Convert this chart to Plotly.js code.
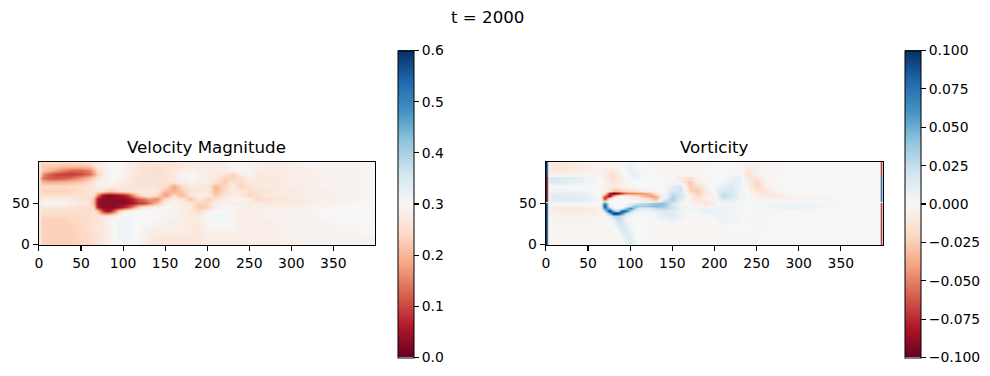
<!DOCTYPE html>
<html>
<head>
<meta charset="utf-8">
<script src="https://cdn.plot.ly/plotly-3.0.0.min.js"></script>
<style>html,body{margin:0;padding:0;background:#fff}#chart{width:990px;height:376px}</style>
</head>
<body>
<div id="chart"></div>
<script>
const suptitle = "t = 2000";
const speedTitle = "Velocity Magnitude";
const vortTitle = "Vorticity";

const speedX = [0,1,3,6,10,20,30,40,50,60, 65,70,75,80,85,90,95,100,105,110, 115,120,125,130,140,150,160,170,180,190, 200,210,220,230,240,250,260,270,280,300, 320,340,360,380,397,399];
const speedY = [0,10,20,30,35,40,45,50,55,60,65,70,75,80,85,90,95,99];
// velocity magnitude, hundredths, one row per speedY
const speedRows = [
[36,28,23,23,23,23,23,23,23,24, 25,26,27,28,29,30,31,31,31,31, 30,29,28,27,26,26,26,26,26,26, 27,27,27,27,27,28,28,28,28,28, 29,29,29,29,29,29],
[36,28,23,23,23,23,23,23,24,24, 25,26,27,28,29,30,31,31,31,31, 30,29,29,28,27,27,27,27,27,27, 28,28,28,28,28,28,28,28,28,29, 29,29,29,29,29,29],
[36,28,23,23,23,23,23,23,24,25, 26,27,27,28,29,30,31,31,31,31, 30,30,29,29,28,28,28,28,27,27, 29,29,29,29,28,28,28,28,28,29, 29,29,29,30,30,30],
[36,27,23,23,23,23,23,24,24,25, 26,26,27,28,29,30,31,31,31,31, 30,30,30,30,29,29,28,28,27,27, 30,30,30,30,28,28,28,28,29,29, 29,29,30,30,30,30],
[36,27,24,24,24,24,24,24,24,25, 26,26,26,27,28,29,30,31,31,31, 30,30,30,30,30,29,29,28,27,28, 30,31,31,29,28,28,28,29,29,29, 29,30,30,30,30,30],
[36,27,25,25,25,25,25,25,25,25, 26,22,10,5,7,14,22,27,29,30, 30,30,30,30,30,29,29,28,27,24, 28,30,30,29,28,28,28,29,29,29, 29,30,30,30,30,30],
[36,27,27,27,27,27,27,26,25,25, 23,6,3,3,3,3,4,7,10,14, 19,24,27,28,29,30,29,28,27,22, 23,28,30,30,28,28,28,28,28,28, 29,29,30,30,30,30],
[36,28,28,29,29,29,29,28,27,26, 20,4,3,3,3,3,3,3,4,5, 7,9,10,13,20,28,29,28,26,23, 24,28,29,28,28,28,28,27,27,27, 28,29,29,30,30,30],
[36,27,27,28,28,28,28,27,26,25, 21,5,3,3,3,3,3,3,4,6, 9,12,14,17,15,25,28,26,21,27, 23,25,28,29,29,28,24,25,26,27, 28,28,29,29,30,30],
[36,26,25,25,25,25,25,25,25,26, 25,15,5,3,3,4,4,6,9,14, 20,24,26,27,24,17,24,20,26,28, 28,22,26,28,27,23,25,27,27,28, 28,28,29,29,30,30],
[36,25,23,23,23,23,23,24,25,26, 27,26,26,23,22,23,25,26,26,27, 27,27,27,27,27,20,19,22,26,27, 27,20,24,28,27,25,25,26,27,27, 28,28,29,29,30,30],
[36,26,24,24,24,24,24,24,25,26, 27,28,29,29,28,28,27,27,26,26, 26,26,26,26,26,25,18,24,27,27, 27,20,24,28,23,25,27,27,27,28, 28,29,29,29,30,30],
[36,25,21,20,19,19,20,21,22,24, 26,28,29,29,29,29,28,28,27,27, 26,26,26,26,26,26,26,28,29,28, 28,25,22,26,24,27,27,27,27,28, 28,29,29,29,30,30],
[36,23,16,13,12,11,12,14,17,21, 23,27,28,29,30,30,29,28,28,27, 26,26,26,26,26,26,27,29,30,29, 28,27,23,23,25,28,27,27,27,28, 28,29,29,29,30,30],
[36,24,20,16,13,10,9,9,10,13, 17,23,27,29,30,30,30,29,28,28, 27,26,26,26,25,26,27,29,30,29, 28,27,26,23,28,29,27,27,27,28, 28,29,29,29,30,30],
[36,26,23,22,21,18,15,13,13,15, 20,25,27,28,29,30,30,29,28,28, 27,26,26,26,25,26,27,28,29,28, 28,28,28,29,30,29,28,27,27,28, 28,29,29,29,30,30],
[36,26,22,22,22,22,21,21,21,22, 25,27,28,29,30,30,30,29,28,28, 27,26,26,26,25,26,26,27,28,28, 28,28,28,29,30,29,28,28,28,28, 29,29,29,29,30,30],
[36,26,24,24,24,24,24,24,24,25, 26,27,28,29,30,30,30,29,28,28, 27,26,26,26,26,26,26,27,27,28, 28,28,28,29,29,29,28,28,28,28, 29,29,29,30,30,30]
];

const vortX = [0,1,2,3,5, 10,20,30,40,50,60, 65,70,75,80,85,90,95,100,105,110, 115,120,125,130,140,150,160,170,180,190, 200,210,220,230,240,250,260,270,280,300, 320,340,360,380,396,398,399];
const vortY = [0,10,20,30,35,38,41,44,47,50,51,52,56,59,62,65,70,75,81,82,83,90,95,99];
// vorticity, thousandths, one row per vortY
const vortRows = [
[100,100,40,0,-3, -3,-3,-3,-3,-3,-2, -2,-2,-2,-2,-2,-1,4,14,6,0, 0,-1,-1,-1,-2,-2,-2,-2,-2,-2, -2,-2,-2,-2,-2,-1,-1,-1,-1,-1, -1,-1,-1,-1,-1,-100,-100],
[100,100,40,0,-3, -3,-3,-3,-3,-3,-2, -2,-2,-2,-2,-1,3,14,12,2,0, 0,-1,-2,-2,-3,-3,-3,-2,-2,-2, -2,-2,-2,-2,-1,-1,-1,-1,-1,-1, -1,-1,-1,-1,-1,-100,-100],
[100,100,40,0,-3, -3,-3,-3,-3,-3,-2, -2,-2,-2,-1,5,18,16,3,0,0, 0,-1,-2,-2,-2,-2,-2,-2,-2,-2, -2,-1,0,0,-1,-1,-1,-1,-1,-1, -1,-1,-1,-1,-1,-100,-100],
[100,100,40,0,-3, -3,-3,-3,-3,-3,-3, -2,-1,2,8,22,20,4,0,0,0, 0,0,0,-1,3,6,2,-1,-1,-1, 0,6,4,1,-1,-2,-1,-1,-1,-1, -1,-1,-1,0,0,-100,-100],
[100,100,40,0,-3, -4,-4,-4,-4,-4,-3, -2,-1,10,30,32,20,8,3,1,0, 0,1,3,5,10,13,5,0,0,2, 4,6,4,1,-1,-2,-1,-1,-1,0, -1,0,0,0,0,-100,-100],
[100,100,40,0,-4, -6,-6,-6,-6,-6,-5, -3,2,50,100,100,70,30,8,2,1, 1,2,3,6,12,14,6,1,1,6, 5,6,4,1,-1,-2,-1,0,0,0, 0,0,0,0,0,-100,-100],
[100,100,40,0,-6, -9,-9,-9,-9,-9,-6, -3,25,100,50,30,85,75,30,8,5, 4,5,6,8,14,13,5,2,3,10, 5,6,4,1,0,-1,0,1,1,1, 1,0,0,0,0,-100,-100],
[100,100,40,0,-7, -10,-10,-10,-10,-9,-5, -3,70,40,0,0,5,40,65,35,15, 10,12,18,24,28,20,6,3,2,8, 4,5,4,2,1,1,2,3,4,6, 3,1,0,0,0,-100,-100],
[100,100,40,0,-4, -5,-5,-5,-5,-4,-3, -2,90,5,0,0,0,5,25,40,38, 35,38,42,45,38,16,3,0,-4,-10, -2,4,3,2,1,2,3,6,6,5, 4,2,1,0,0,-100,-100],
[100,100,40,2,4, 2,2,2,2,1,0, -1,70,0,0,0,0,0,8,15,20, 25,28,35,40,40,18,2,-2,-6,-12, -6,3,3,2,1,1,2,4,5,3, 3,2,1,0,0,-100,-100],
[10,10,10,5,6, 6,6,6,6,5,2, 0,30,0,0,0,0,0,2,5,5, 5,8,10,15,32,25,5,-3,-8,-10, -6,5,5,2,0,0,0,2,2,1, 1,1,0,0,0,10,10],
[100,-100,-50,4,8, 10,10,10,10,8,3, 0,-30,0,0,0,0,0,0,0,-2, -5,-8,-15,-20,25,30,8,-4,-10,-8, -4,10,8,3,0,-1,-2,-2,-3,-3, -2,-1,0,0,0,100,100],
[100,-100,-50,4,10, 12,12,12,11,8,3, -1,-80,-20,0,0,0,-1,-4,-5,-8, -14,-18,-28,-40,6,35,12,-5,-14,-6, -3,20,14,4,0,-3,-5,-6,-6,-5, -4,-2,0,0,0,100,100],
[100,-100,-50,4,10, 12,12,12,11,7,2, -2,-60,-90,-30,-6,-2,-3,-8,-12,-20, -30,-38,-42,-35,-3,28,20,-6,-20,-5, -2,26,18,5,0,-5,-10,-10,-8,-2, -2,-1,0,0,0,100,100],
[100,-100,-50,2,8, 10,10,10,9,5,1, -2,-10,-80,-100,-90,-70,-55,-50,-50,-45, -42,-38,-28,-12,-1,25,15,-10,-25,-10, -1,24,18,5,0,-8,-14,-8,-3,-1, -1,0,0,0,0,100,100],
[100,-100,-50,1,4, 4,5,5,4,2,0, -2,-5,-15,-30,-30,-25,-20,-18,-14,-10, -8,-5,-3,-1,0,15,22,-22,-28,-8, 1,18,16,5,-2,-14,-14,-4,-1,-1, 0,0,0,0,0,100,100],
[100,-100,-50,0,0, 1,1,0,0,0,0, -1,-3,-8,-10,-6,-4,-3,-2,-1,-1, 0,0,0,0,1,10,18,-25,-18,-2, 2,8,16,6,-4,-22,-8,-2,0,0, 0,0,0,0,0,100,100],
[100,-100,-50,4,12, 14,12,10,8,5,1, 0,-4,-8,-14,-8,-6,-3,-1,0,0, 0,0,0,0,0,3,-5,-28,-8,-1, 0,2,10,8,-8,-22,-4,-1,0,0, 0,0,0,0,0,100,100],
[100,-100,-50,5,14, 16,14,12,8,4,1, 0,-4,-12,-16,-10,-6,-2,2,6,3, 1,0,0,0,-1,-2,-12,-14,-3,-1, 0,1,6,10,-12,-14,-2,-1,0,0, 0,0,0,0,0,100,100],
[10,10,10,6,8, 8,8,6,4,2,0, -2,-6,-16,-18,-10,-5,0,4,8,4, 1,0,0,0,-1,-2,-8,-6,-1,0, 0,1,3,8,-18,-8,-1,0,0,0, 0,0,0,0,0,10,10],
[100,100,40,0,-2, -2,-3,-3,-2,-2,-1, -3,-8,-18,-16,-8,-3,1,5,10,5, 2,0,0,-1,-1,-2,-4,-3,-1,0, 0,1,2,4,-16,-5,-1,-1,0,0, 0,0,0,0,0,-100,-100],
[100,100,40,-3,-10, -12,-12,-9,-7,-5,-3, -4,-6,-10,-10,-5,-1,3,8,6,2, 0,-1,-1,-1,-2,-2,-2,-1,-1,-1, -1,0,1,2,-14,-4,-2,-2,-1,0, 0,0,0,0,0,-100,-100],
[100,100,40,-3,-10, -12,-13,-10,-8,-6,-4, -4,-4,-4,-3,-2,0,4,8,3,1, 0,-1,-1,-2,-2,-3,-3,-2,-2,-1, -1,-1,-1,-1,-8,-4,-3,-2,-1,-1, 0,0,0,0,0,-100,-100],
[100,100,40,-2,-6, -8,-8,-7,-6,-5,-3, -3,-3,-3,-2,-2,0,3,5,2,1, 0,-1,-1,-2,-2,-2,-2,-2,-2,-1, -1,-1,-1,-1,-3,-3,-3,-2,-1,-1, 0,0,0,0,0,-100,-100]
];

const rdbu = [[0,'#67001f'],[0.1,'#b2182b'],[0.2,'#d6604d'],[0.3,'#f4a582'],[0.4,'#fddbc7'],[0.5,'#f7f7f7'],[0.6,'#d1e5f0'],[0.7,'#92c5de'],[0.8,'#4393c3'],[0.9,'#2166ac'],[1,'#053061']];
const W = 990, H = 376;
const font = {family:'"DejaVu Sans", sans-serif', size:13.9, color:'#000'};
const fx = p => p / W, fy = p => 1 - p / H;
const cbar = (left, dtick, fmt) => ({
  x: fx(left), xanchor:'left', xpad:0, ypad:0, thickness:16, thicknessmode:'pixels',
  y: fy(357.5), yanchor:'bottom', len:307/H, lenmode:'fraction',
  outlinewidth:1, outlinecolor:'#000', ticks:'outside', ticklen:5, tickwidth:1.1, tickcolor:'#000',
  tick0: dtick === 0.1 ? 0 : -0.1, dtick, tickformat:fmt, tickfont:font
});
const traces = [
  {type:'heatmap', x:speedX, y:speedY, z:speedRows.map(r=>r.map(v=>v/100)), zmin:0, zmax:0.6, zsmooth:'best',
   colorscale:rdbu, hoverinfo:'skip', xaxis:'x', yaxis:'y', colorbar:cbar(397.5,0.1,'.1f')},
  {type:'heatmap', x:vortX, y:vortY, z:vortRows.map(r=>r.map(v=>v/1000)), zmin:-0.1, zmax:0.1, zsmooth:'best',
   colorscale:rdbu, hoverinfo:'skip', xaxis:'x2', yaxis:'y2', colorbar:cbar(904.5,0.025,'.3f')}
];
const ax = (dom, anchor, range, dtick) => ({
  domain:dom, anchor, range, dtick, tick0:0, ticks:'outside', ticklen:5, tickwidth:1.1, tickcolor:'#000',
  showline:true, mirror:true, linecolor:'#000', linewidth:1, showgrid:false, zeroline:false, tickfont:font, automargin:false
});
const yDom = [fy(245), fy(162)];
const note = (text, px, py, size) => ({text, xref:'paper', yref:'paper', x:fx(px), y:fy(py), xanchor:'center', yanchor:'middle',
  showarrow:false, font:{family:font.family, size, color:'#000'}});
const layout = {
  width:W, height:H, margin:{l:0,r:0,t:0,b:0}, paper_bgcolor:'#fff', plot_bgcolor:'#fff', showlegend:false,
  xaxis:ax([fx(38.5),fx(375)],'y',[-0.5,399.5],50),
  yaxis:ax(yDom,'x',[-0.5,99.5],50),
  xaxis2:ax([fx(545.5),fx(882.5)],'y2',[-0.5,399.5],50),
  yaxis2:ax(yDom,'x2',[-0.5,99.5],50),
  annotations:[note(suptitle,487,18,16.67), note(speedTitle,206.5,147,16.67), note(vortTitle,714,147,16.67)]
};
Plotly.newPlot('chart', traces, layout, {displayModeBar:false, staticPlot:true});
</script>
</body>
</html>
